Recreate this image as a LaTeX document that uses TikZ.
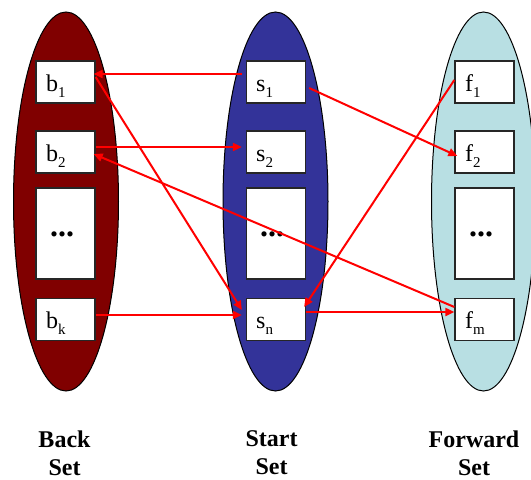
\documentclass[tikz,border=0pt]{standalone}
\usepackage{fontspec}
\setmainfont{Liberation Serif}
\usetikzlibrary{arrows.meta}
\definecolor{backred}{RGB}{128,0,0}
\definecolor{startblue}{RGB}{51,51,153}
\definecolor{fwdcyan}{RGB}{184,223,227}
\definecolor{arrred}{RGB}{255,0,0}
\newcommand{\subtxt}[1]{\raisebox{-6pt}{\fontsize{15pt}{15pt}\selectfont #1}}
\tikzset{
  setell/.style={draw=black, line width=1pt},
  itembox/.style={draw=black!85, line width=1.3pt, fill=white, minimum width=59pt, minimum height=42pt, inner sep=0pt},
  dotbox/.style={itembox, minimum height=91pt},
  itemtext/.style={anchor=base west, font=\fontsize{24pt}{24pt}\selectfont, inner sep=0pt},
  dotstext/.style={font=\fontsize{32pt}{32pt}\selectfont\bfseries, inner sep=0pt},
  conn/.style={draw=arrred, line width=2pt, -{Triangle[length=9pt,width=8pt]}},
  setlabel/.style={font=\fontsize{24pt}{28pt}\selectfont\bfseries, align=center, anchor=north}
}
\begin{document}
\begin{tikzpicture}[x=1pt,y=-1pt]
\useasboundingbox (0,0) rectangle (531,480);
% ellipses
\fill[backred] (66,201.5) ellipse [x radius=52.5, y radius=189.5];
\draw[setell] (66,201.5) ellipse [x radius=52.5, y radius=189.5];
\fill[startblue] (275.5,201.5) ellipse [x radius=52.5, y radius=189.5];
\draw[setell] (275.5,201.5) ellipse [x radius=52.5, y radius=189.5];
\fill[fwdcyan] (483.5,201.5) ellipse [x radius=52, y radius=189.5];
\draw[setell] (483.5,201.5) ellipse [x radius=52, y radius=189.5];
% back boxes
\node[itembox] (b1) at (65.5,82) {};
\node[itembox] (b2) at (65.5,152) {};
\node[dotbox] (bd) at (65.5,233.5) {};
\node[itembox] (bk) at (65.5,319.5) {};
% start boxes
\node[itembox] (s1) at (276,82) {};
\node[itembox] (s2) at (276,152) {};
\node[dotbox] (sd) at (276,233.5) {};
\node[itembox] (sn) at (276,319.5) {};
% forward boxes
\node[itembox] (f1) at (484.5,82) {};
\node[itembox] (f2) at (484.5,152) {};
\node[dotbox] (fd) at (484.5,233.5) {};
\node[itembox] (fm) at (484.5,319.5) {};
% texts
\node[itemtext] (tb1) at (46,91) {b\subtxt{1}};
\node[itemtext] (tb2) at (46,161) {b\subtxt{2}};
\node[itemtext] (tbk) at (46,328.5) {b\subtxt{k}};
\node[itemtext] (ts1) at (256,91) {s\subtxt{1}};
\node[itemtext] (ts2) at (256,161) {s\subtxt{2}};
\node[itemtext] (tsn) at (256,328.5) {s\subtxt{n}};
\node[itemtext] (tf1) at (465,91) {f\subtxt{1}};
\node[itemtext] (tf2) at (465,161) {f\subtxt{2}};
\node[itemtext] (tfm) at (465,328.5) {f\subtxt{m}};
\node[dotstext] (tbd) at (62,234) {...};
\node[dotstext] (tsd) at (272,234) {...};
\node[dotstext] (tfd) at (481,234) {...};
% connectors
\draw[conn] ([xshift=-4pt,yshift=8pt]s1.west) -- ([xshift=-2pt,yshift=8pt]b1.east);
\draw[conn] ([yshift=5pt]b1.east) -- ([xshift=-4pt,yshift=9.5pt]sn.west);
\draw[conn] ([yshift=5pt]b2.east) -- ([xshift=-4pt,yshift=5pt]s2.west);
\draw[conn] ([yshift=12.5pt]fm.west) -- ([xshift=-2pt,yshift=-2pt]b2.east);
\draw[conn] ([yshift=4.5pt]bk.east) -- ([xshift=-4pt,yshift=4.5pt]sn.west);
\draw[conn] ([xshift=3pt,yshift=-6pt]s1.east) -- ([xshift=3pt,yshift=-4pt]f2.west);
\draw[conn] ([yshift=2pt]f1.west) -- ([xshift=-2pt,yshift=12.5pt]sn.east);
\draw[conn] ([yshift=7.5pt]sn.east) -- ([xshift=0pt,yshift=7.5pt]fm.west);
% labels
\node[setlabel] (lb) at (64.5,427) {Back\\Set};
\node[setlabel] (ls) at (271.5,427) {Start\\Set};
\node[setlabel] (lf) at (474,427) {Forward\\Set};
\end{tikzpicture}
\end{document}
